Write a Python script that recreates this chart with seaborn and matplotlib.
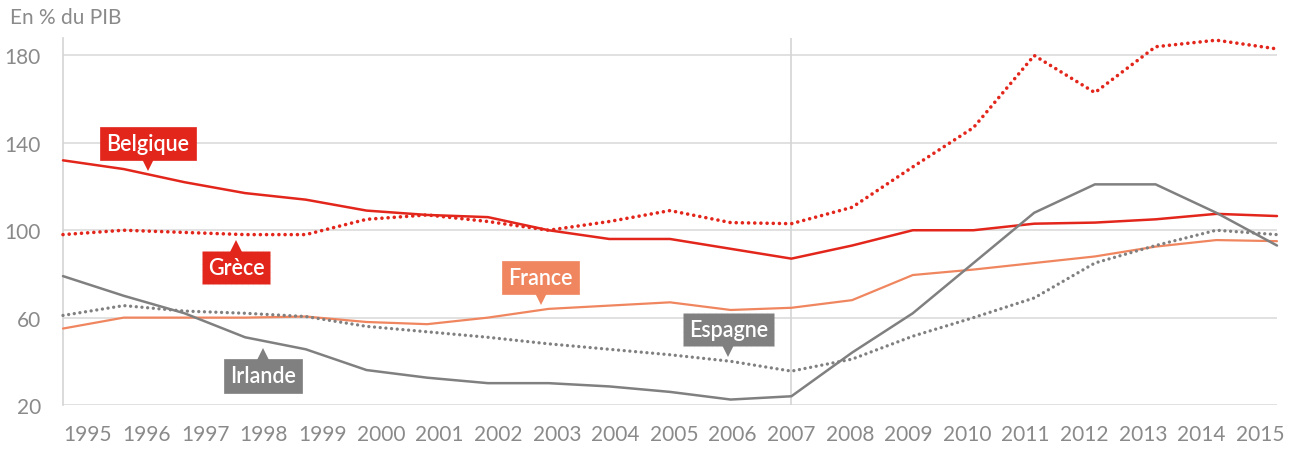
import pandas as pd
import matplotlib
matplotlib.use("Agg")
import matplotlib.pyplot as plt
from matplotlib.transforms import offset_copy, ScaledTranslation
import seaborn as sns

# data (debt, % of GDP)
years = list(range(1995, 2016))
belgique = [132, 128, 122, 117, 114, 109, 107, 106, 100, 96, 96, 91.5, 87, 93, 100, 100, 103, 103.5, 105, 107.5, 106.5]
grece = [98, 100, 99, 98, 98, 105, 107, 104, 100, 104, 109, 103.5, 103, 110.5, 129, 147, 180, 163, 184, 187, 183]
france = [55, 60, 60, 60, 60.5, 58, 57, 60, 64, 65.5, 67, 63.5, 64.5, 68, 79.5, 82, 85, 88, 92.5, 95.5, 95]
irlande = [79, 70, 62, 51, 45.5, 36, 32.5, 30, 30, 28.5, 26, 22.5, 24, 44, 62, 85, 108, 121, 121, 108, 93]
espagne = [61, 65.5, 63, 62, 60.5, 56, 53.5, 51, 48, 45.5, 43, 40, 35.5, 41, 51.5, 60, 69, 85, 93, 100, 98]
y_ticks = [20, 60, 100, 140, 180]

RED = "#e3261c"
SALMON = "#f0865f"
GREY = "#808080"
DOT = (0, (0.01, 1.7))

df = pd.DataFrame({"annee": years, "Belgique": belgique, "Grèce": grece,
                   "France": france, "Irlande": irlande, "Espagne": espagne})
long = df.melt(id_vars="annee", var_name="pays", value_name="dette")

sns.set_theme(style="white")
plt.rcParams["font.family"] = ["Lato", "DejaVu Sans"]

fig = plt.figure(figsize=(12.9, 4.52), dpi=100)
ax = fig.add_axes([63 / 1290, 1 - 406 / 452, 1214 / 1290, 367 / 452])

styles = {
    "Belgique": (RED, "-", 1.8),
    "Grèce": (RED, DOT, 2.6),
    "France": (SALMON, "-", 1.6),
    "Irlande": (GREY, "-", 1.8),
    "Espagne": (GREY, DOT, 2.4),
}
for pays, (col, ls, lw) in styles.items():
    sub = long[long["pays"] == pays]
    sns.lineplot(data=sub, x="annee", y="dette", ax=ax, color=col,
                 linestyle=ls, linewidth=lw, dash_capstyle="round",
                 clip_on=False, zorder=3)

ax.axvline(2007, color="#d4d4d4", lw=1.2, zorder=1)

ax.set_xlim(1995, 2015)
ax.set_ylim(20, 188)
ax.set_xticks(years)
ax.set_yticks(y_ticks)
ax.grid(axis="y", color="#dcdcdc", lw=1.2, zorder=0)
ax.grid(axis="x", visible=False)
for s in ["top", "right", "bottom"]:
    ax.spines[s].set_visible(False)
ax.spines["left"].set_color("#d4d4d4")
ax.spines["left"].set_linewidth(1.2)
ax.tick_params(axis="x", length=0, pad=14, labelsize=15, labelcolor="#8a8a8a")
ax.tick_params(axis="y", length=0, pad=16, labelsize=15, labelcolor="#8a8a8a")
ax.set_xlabel("")
ax.set_ylabel("")
if ax.get_legend():
    ax.get_legend().remove()

# year labels in the reference sit on a slightly tighter spacing than the data
for i, lab in enumerate(ax.get_xticklabels()):
    dx = (88 + i * 58.6) - (63 + i * 60.7)
    lab.set_transform(lab.get_transform() + ScaledTranslation(dx / 100, 0, fig.dpi_scale_trans))

fig.text(10 / 1290, 1 - 18 / 452, "En % du PIB", fontsize=15, color="#8a8a8a",
         va="center", ha="left")

# callout labels: (name, tip year, tip value, direction, colour, dotted edge)
callouts = [
    ("Belgique", 1996.4, 127, 1, RED, False),
    ("Grèce", 1997.85, 95.5, -1, RED, True),
    ("France", 2002.87, 65.5, 1, SALMON, False),
    ("Espagne", 2005.96, 42, 1, GREY, True),
    ("Irlande", 1998.3, 46, -1, GREY, False),
]
for name, xt, yt, d, col, dotted in callouts:
    ax.annotate(name, xy=(xt, yt), xytext=(0, d * 20), textcoords="offset points",
                ha="center", va="center", fontsize=15.5, fontweight="semibold", color="white",
                zorder=6,
                bbox=dict(boxstyle="square,pad=0.28", fc=col, ec=col,
                          lw=2.4 if dotted else 0.5, ls=DOT if dotted else "-"))
    tr = offset_copy(ax.transData, fig=fig, x=0, y=d * 4.5, units="points")
    ax.plot([xt], [yt], marker="v" if d > 0 else "^", markersize=9, color=col,
            markeredgewidth=0, transform=tr, clip_on=False, zorder=5)

fig.savefig("out.png", dpi=100)
